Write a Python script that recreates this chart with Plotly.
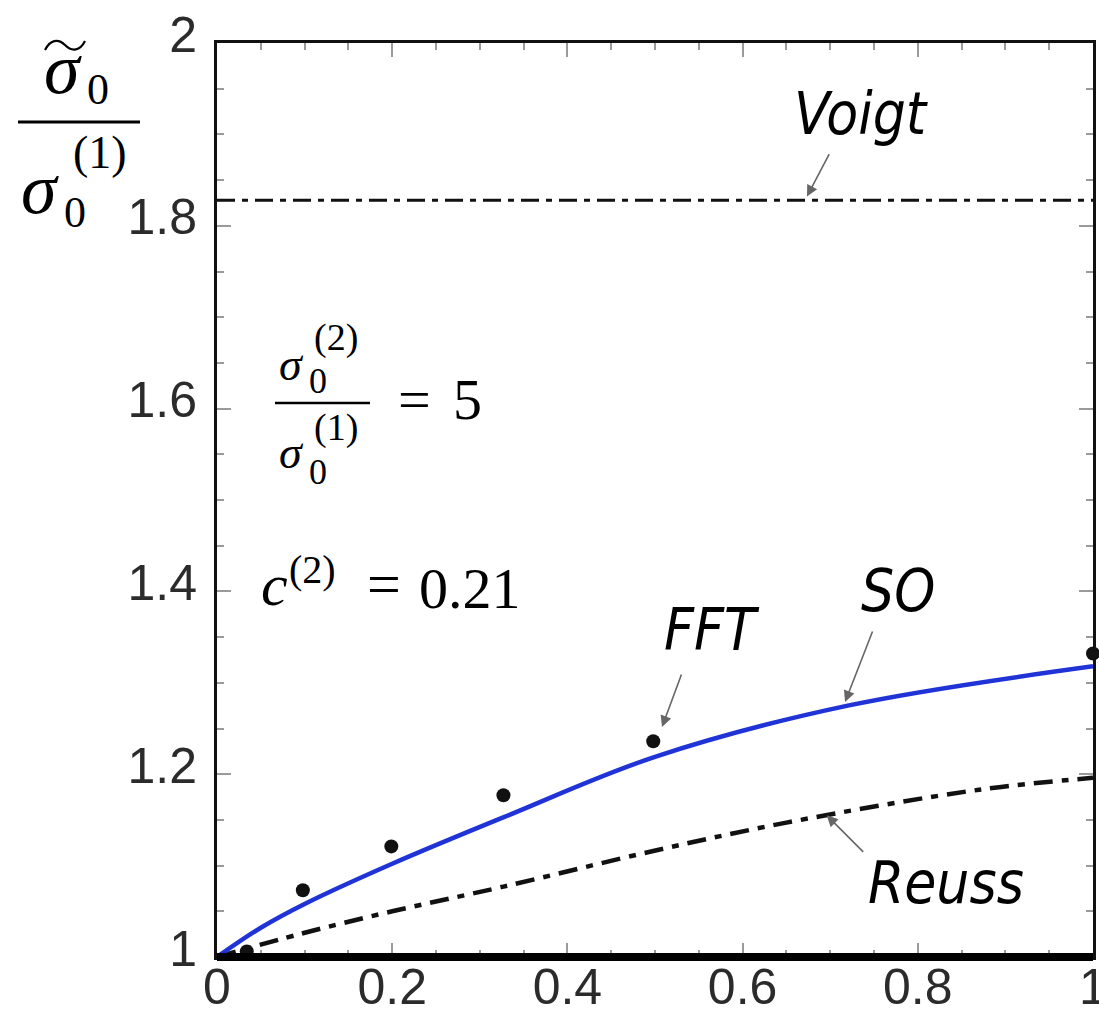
import plotly.graph_objects as go

# ---------------- data ----------------
x_so = [0, 0.05, 0.1, 0.2, 0.33, 0.5, 0.72, 1.0]
y_so = [1.0, 1.032, 1.058, 1.102, 1.154, 1.219, 1.275, 1.318]
x_fft = [0.034, 0.098, 0.199, 0.327, 0.498, 1.0]
y_fft = [1.006, 1.073, 1.121, 1.177, 1.236, 1.332]
x_reuss = [0, 0.098, 0.2, 0.327, 0.498, 0.65, 0.87, 1.0]
y_reuss = [1.0, 1.026, 1.05, 1.077, 1.116, 1.147, 1.183, 1.196]
voigt_value = 1.828
x_range = [0, 1]
y_range = [1, 2]
x_ticks = [0, 0.2, 0.4, 0.6, 0.8, 1]
x_ticklabels = ["0", "0.2", "0.4", "0.6", "0.8", "1"]
y_ticks = [1, 1.2, 1.4, 1.6, 1.8, 2]
y_ticklabels = ["1", "1.2", "1.4", "1.6", "1.8", "2"]

# ---------------- layout geometry ----------------
W, H = 1099, 1021
L, R, T, B = 217, 1093, 43, 957
PW, PH = R - L, B - T

def px(xp):
    return (xp - L) / PW

def py(yp):
    return (B - yp) / PH

SANS_T = "Liberation Sans, Arial, sans-serif"
SANS_I = "DejaVu Sans Condensed, DejaVu Sans, sans-serif"
SERIF = "Liberation Serif, DejaVu Serif, serif"
TICKC = "#9a9a9a"

fig = go.Figure()

fig.add_trace(go.Scatter(
    x=x_range, y=[voigt_value, voigt_value], mode="lines",
    line=dict(color="#111", width=3, dash="18px,7px,6px,7px"),
    showlegend=False, hoverinfo="skip"))

fig.add_trace(go.Scatter(
    x=x_reuss, y=y_reuss, mode="lines", line_shape="spline",
    line=dict(color="#111", width=4.5, dash="19px,9px,7px,9px"),
    showlegend=False, hoverinfo="skip"))

fig.add_trace(go.Scatter(
    x=x_so, y=y_so, mode="lines", line_shape="spline",
    line=dict(color="#1f33d6", width=4.5),
    showlegend=False, hoverinfo="skip"))

fig.add_trace(go.Scatter(
    x=x_fft, y=y_fft, mode="markers", cliponaxis=False,
    marker=dict(color="#111", size=14),
    showlegend=False, hoverinfo="skip"))

axis_common = dict(
    showgrid=False, zeroline=False, showline=True, linecolor="#111",
    linewidth=3, mirror="ticks", ticks="inside", ticklen=14,
    tickwidth=1.5, tickcolor=TICKC, automargin=False,
    ticklabeloverflow="allow",
    tickfont=dict(family=SANS_T, size=50, color="#2b2b2b"),
    minor=dict(dtick=0.05, ticks="inside", ticklen=7, tickwidth=1.5,
               tickcolor=TICKC, showgrid=False),
)

fig.update_xaxes(range=x_range, tickmode="array", tickvals=x_ticks,
                 ticktext=x_ticklabels, ticklabelstandoff=-16, **axis_common)
fig.update_yaxes(range=y_range, tickmode="array", tickvals=y_ticks,
                 ticktext=y_ticklabels, ticklabelstandoff=7,
                 ticklabelshift=-9, **axis_common)

def P(xp, yp):
    return f"{px(xp):.5f},{py(yp):.5f}"

tilde_path = ("M " + P(45, 50) + " C " + P(50, 40) + " " + P(58, 38) + " "
              + P(65, 45) + " C " + P(72, 52) + " " + P(80, 51) + " " + P(85, 41))

shapes = [
    # thick bottom frame
    dict(type="line", xref="paper", yref="paper", x0=0, x1=1, y0=0, y1=0,
         line=dict(color="#000", width=8), layer="above"),
    # fraction bar of y label
    dict(type="line", xref="paper", yref="paper", x0=px(18), x1=px(140),
         y0=py(122), y1=py(122), line=dict(color="#000", width=3)),
    # wide tilde over sigma
    dict(type="path", xref="paper", yref="paper", path=tilde_path,
         line=dict(color="#000", width=2.2)),
    # fraction bar inside plot
    dict(type="line", xref="paper", yref="paper", x0=px(275), x1=px(370),
         y0=py(403), y1=py(403), line=dict(color="#000", width=2.5)),
]

ann = []

def txt(s, xc, yc, size, family=SERIF, xanchor="center"):
    ann.append(dict(text=s, xref="paper", yref="paper", x=px(xc), y=py(yc),
                    xanchor=xanchor, yanchor="middle", showarrow=False,
                    font=dict(family=family, size=size, color="#000")))

# y axis label: sigma~_0 / sigma_0^(1)
txt("<i>σ</i>", 63, 69, 72)
txt("0", 98, 89, 44)
txt("<i>σ</i>", 40, 189, 72)
txt("0", 75, 213, 44)
txt("(1)", 100, 153, 46)

# sigma0(2)/sigma0(1) = 5
txt("<i>σ</i>", 291, 364, 46)
txt("0", 318, 381, 36)
txt("(2)", 336, 337, 38)
txt("<i>σ</i>", 291, 452, 46)
txt("0", 318, 472, 36)
txt("(1)", 336, 428, 38)
txt("=", 414, 399, 58)
txt("5", 467, 399, 58)

# c(2) = 0.21
txt("<i>c</i>", 274, 585, 60)
txt("(2)", 312, 569, 40)
txt("=", 384, 584, 60)
txt("0.21", 470, 588, 58)

# curve labels
txt("<i>Voigt</i>", 861, 114, 58, SANS_I)
txt("<i>FFT</i>", 712, 630, 58, SANS_I)
txt("<i>SO</i>", 898, 591, 58, SANS_I)
txt("<i>Reuss</i>", 946, 883, 58, SANS_I)

def arrow(xh, yh, ax, ay):
    ann.append(dict(text="", x=xh, y=yh, xref="x", yref="y", ax=ax, ay=ay,
                    showarrow=True, arrowhead=2, arrowsize=1.4, arrowwidth=1.6,
                    arrowcolor="#666"))

arrow(0.6735, voigt_value + 0.004, 23, -44)
arrow(0.508, 1.2516, 20, -54)
arrow(0.717, 1.279, 28, -72)
arrow(0.696, 1.155, 38, 38)

fig.update_layout(
    width=W, height=H, margin=dict(l=L, r=W - R, t=T, b=H - B),
    paper_bgcolor="white", plot_bgcolor="white",
    shapes=shapes, annotations=ann, showlegend=False,
)

fig.write_html("out.html")
